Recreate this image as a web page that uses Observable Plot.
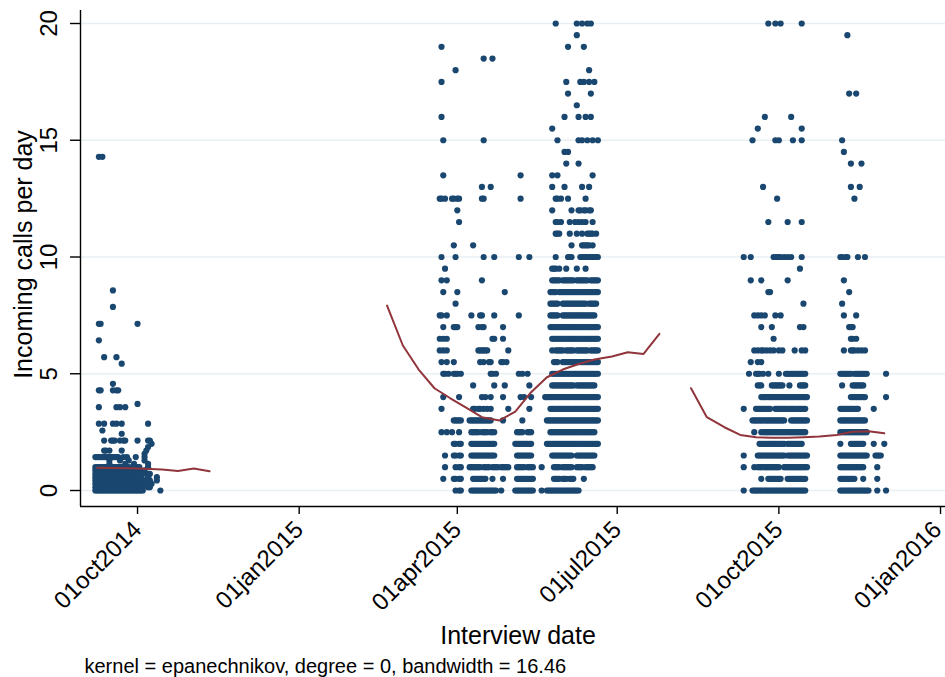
<!DOCTYPE html>
<html>
<head>
<meta charset="utf-8">
<script src="https://cdn.jsdelivr.net/npm/d3@7"></script>
<script src="https://cdn.jsdelivr.net/npm/@observablehq/plot@0.6"></script>
<style>
  html, body { margin: 0; padding: 0; background: #fff; }
</style>
</head>
<body>
<div id="chart"></div>
<script>
// ---- Data ----
// Each row: [calls per day, days (relative to the wave's base date) that have a dot; "a:b" = dots on every day a..b]
const wave1Base = "2014-10-01";
const wave1Rows = [
  [14.29, "-22 -20"],
  [8.57, "-14"],
  [7.86, "-14"],
  [7.14, "-22 -21 0"],
  [6.43, "-22"],
  [5.71, "-19 -12"],
  [5.43, "-9"],
  [4.57, "-14"],
  [4.29, "-22 -21 -14 -12 -11"],
  [3.71, "0"],
  [3.57, "-22 -12 -10 -7"],
  [2.86, "-22 -19 -14 -12 -9 6"],
  [2.57, "-20"],
  [2.43, "-9"],
  [2.14, "-19 -15 -14 -13 -10 -8 -7 0 6 7"],
  [2.0, "8"],
  [1.86, "6"],
  [1.71, "-19 -18 -16 -9 5"],
  [1.57, "4"],
  [1.43, "-24:-11 -8 -6 -1 4"],
  [1.29, "-16 -10 -5 4"],
  [1.14, "-16 -7 -2 6"],
  [1.0, "-24:-5 -3:1 6"],
  [0.86, "-24:1 4"],
  [0.71, "-24:2 5 7"],
  [0.57, "-24:2 6 11"],
  [0.43, "-24:2 4 7 11"],
  [0.29, "-24:2 5 7 8"],
  [0.14, "-24:3 6 7"],
  [0, "-24:3 13"]
];

const wave2Base = "2015-04-01";
const wave2Rows = [
  [20, "56 68 71 74 76"],
  [19.5, "68"],
  [19, "-9 63 72"],
  [18.5, "15 20"],
  [18, "-1 75"],
  [17.5, "-9 62 70 72 75 78"],
  [17, "63 76"],
  [16.5, "68"],
  [16, "-9 61 69 73 76"],
  [15.5, "54"],
  [15, "-8 15 57 69 71 74 77 80"],
  [14.5, "61 63"],
  [14, "62 69"],
  [13.5, "-8 36 54 57 77"],
  [13, "14 19 54 61 71 75"],
  [12.5, "-10 -9 -7 -3 -2 0 1 14 15 36 56 57 59 63 73"],
  [12, "0 54 65 69 70 72 73 75 76"],
  [11.5, "1 56 57 59 64 67 69 71 73 77"],
  [11, "56 57 58 64 68 71 74:77 79"],
  [10.5, "-2 9 65 71:75 77"],
  [10, "-9 -1 15 21 35 41 56 63:65 70:80"],
  [9.5, "-7 54:56 58 62 68 73"],
  [9, "-9 -6 14 54:58 60:66 68:74 76:80"],
  [8.5, "-8 0 27 53:56 58:80"],
  [8, "-1 53:57 60:73 75:79"],
  [7.5, "-10 -9 -6 8 13 14 21 35 53:57 60:66 67:78"],
  [7, "-8 -2 -1 0 12 14 15 26 53:80"],
  [6.5, "-10 -8 -6 20 21 26 54:60 61:66 67:80"],
  [6, "-10 -8 -6 12:17 29 54 56:60 62:66 68:74 76:80"],
  [5.5, "-9 -6 -2 13 15 18 19 25 26 28 55:57 60:80"],
  [5, "-8 -7 -5 -2 -1 0 2 19 20 22 35 37 40 54:80"],
  [4.5, "9 21 27 41 54:66 68:78"],
  [4, "-8 1 14 16 19 26 36 38 42 50:80"],
  [3.5, "-9 9 10 12 13 15 17 19 29 41 53:80"],
  [3, "-2 -1 0 1 2 7:19 26 37 51:80"],
  [2.5, "-9 -6 -3 1 8:12 14:17 19:21 34:37 40:42 53:78"],
  [2, "-2 -1 1 2 8:21 33:42 51:80"],
  [1.5, "-7 -2 -1 1 2 8:21 34:42 54:65 68:78"],
  [1, "-7 -1 1 2 7:13 15:18 20:23 25:29 34:38 40:43 48 55:58 60:65 68:71 73:77"],
  [0.5, "-8 -2 -1 1 2 9:16 20 26 34:43 55:58 60:62 64:66 72"],
  [0, "-1 1 2 8:22 25 33:43 48 51:69"]
];

const wave3Base = "2015-10-01";
const wave3Rows = [
  [20, "-6 -2 1 13"],
  [19.5, "39"],
  [17, "40 44"],
  [16, "-8 7"],
  [15.5, "-12 13"],
  [15, "-15 -2 0 8 13 36"],
  [14.5, "37"],
  [14, "41 47"],
  [13, "-9 41 46"],
  [12.5, "-1 43"],
  [11.5, "-6 5 13"],
  [10, "-20 -16 -3 -2 -1 0 1 3 5 7 13 35 36 38 39 45 49"],
  [9.5, "12"],
  [9, "-16 -10 5 37"],
  [8.5, "-6 -5 40"],
  [8, "14 36"],
  [7.5, "-14 -12 -10 -8 -2 1 37 44"],
  [7, "-10 -4 12 14 40 41 42"],
  [6.5, "-3 41 42 44"],
  [6, "-14 -12 -10 -9 -7 -5 -3 0 2 9 13 15 37 41 42 43 45 47 49"],
  [5.5, "-16 -12 -10"],
  [5, "-17 -13:-11 -9 -6 0 4:15 35:41 43:50 61"],
  [4.5, "-12 -11 -10 -4:2 6 12:15 36 42:48"],
  [4, "-10:16 41:49 61"],
  [3.5, "-20 -13:-5 -2:15 35:45 54"],
  [3, "-15:3 7:16 35:49"],
  [2.5, "-14 -10:15 35:50"],
  [2, "-11:3 5:13 35 41:48 54 60"],
  [1.5, "-20 -12:3 5:16 35:50 55:58"],
  [1, "-20 -14 -12:0 3:16 35:48 56"],
  [0.5, "-10 -6:1 5:15 35:43 48 56"],
  [0, "-20 -15:15 35:51 56 61"]
];

// Local polynomial smooth (epanechnikov, degree 0, bw 16.46); null = no estimate (gap)
const smoothDates = [
  "2014-09-08", "2014-09-17", "2014-09-26", "2014-10-05", "2014-10-15", "2014-10-24", "2014-11-02", "2014-11-11",
  "2014-11-20",
  "2015-02-20", "2015-03-01", "2015-03-10", "2015-03-19", "2015-03-28", "2015-04-06", "2015-04-15", "2015-04-25",
  "2015-05-04", "2015-05-13", "2015-05-22", "2015-05-31", "2015-06-09", "2015-06-18", "2015-06-28", "2015-07-07",
  "2015-07-16", "2015-07-25",
  "2015-08-03",
  "2015-08-12", "2015-08-21", "2015-08-31", "2015-09-09", "2015-09-18", "2015-09-27", "2015-10-06", "2015-10-15",
  "2015-10-24", "2015-11-03", "2015-11-12", "2015-11-21", "2015-11-30"
];
const smoothValues = [
  0.97, 0.96, 0.95, 0.93, 0.90, 0.84, 0.94, 0.82,
  null,
  7.92, 6.21, 5.18, 4.38, 3.95, 3.55, 3.14, 3.00, 3.38, 4.21, 4.85, 5.18, 5.42, 5.61, 5.74, 5.92, 5.85, 6.71,
  null,
  4.38, 3.14, 2.71, 2.38, 2.28, 2.26, 2.26, 2.28, 2.31, 2.38, 2.52, 2.54, 2.45
];

const yTicks = [0, 5, 10, 15, 20];
const xTicks = ["2014-10-01", "2015-01-01", "2015-04-01", "2015-07-01", "2015-10-01", "2016-01-01"];
const xTickLabels = ["01oct2014", "01jan2015", "01apr2015", "01jul2015", "01oct2015", "01jan2016"];
const yTitle = "Incoming calls per day";
const xTitle = "Interview date";
const caption = "kernel = epanechnikov, degree = 0, bandwidth = 16.46";

// ---- Build tables ----
const DAY = 864e5;
function expand(base, rows) {
  const b = Date.parse(base + "T00:00:00Z");
  const out = [];
  for (const [v, s] of rows) {
    for (const tok of s.trim().split(/\s+/)) {
      const m = tok.match(/^(-?\d+)(?::(-?\d+))?$/);
      const a = +m[1], c = m[2] !== undefined ? +m[2] : a;
      for (let d = a; d <= c; d++) out.push({date: new Date(b + d * DAY), value: v});
    }
  }
  return out;
}
const points = [
  ...expand(wave1Base, wave1Rows),
  ...expand(wave2Base, wave2Rows),
  ...expand(wave3Base, wave3Rows)
];
const smooth = smoothDates.map((d, i) => ({date: new Date(d + "T00:00:00Z"), value: smoothValues[i]}));
const xTickData = xTicks.map((d, i) => ({date: new Date(d + "T00:00:00Z"), label: xTickLabels[i]}));
const xTickInner = xTickData.slice(0, -1);
const xTickLast = xTickData.slice(-1);

const xDomain = [new Date("2014-08-29T13:00:00Z"), new Date("2016-01-03T20:00:00Z")];
const yDomain = [-0.685, 20.557];

const font = "'Liberation Sans', Arial, Helvetica, sans-serif";
const xLabelStyle = {x: "date", text: "label", frameAnchor: "bottom", dy: 19, rotate: -45,
  textAnchor: "end", lineAnchor: "middle", fontSize: 24, fill: "#000"};

const chart = Plot.plot({
  width: 945,
  height: 677,
  marginLeft: 80,
  marginRight: 0,
  marginTop: 10,
  marginBottom: 171,
  style: {fontFamily: font, background: "#fff", color: "#000"},
  x: {type: "utc", domain: xDomain, axis: null},
  y: {domain: yDomain, axis: null},
  marks: [
    Plot.ruleY(yTicks, {y: d => d, stroke: "#e8eff2", strokeWidth: 1.6}),
    Plot.dot(points, {x: "date", y: "value", r: 3.1, fill: "#1a476f", stroke: "none"}),
    Plot.line(smooth, {x: "date", y: "value", stroke: "#90353b", strokeWidth: 2}),
    // axes lines
    Plot.ruleX([xDomain[0]], {stroke: "#000", strokeWidth: 1.4}),
    Plot.ruleY([yDomain[0]], {stroke: "#000", strokeWidth: 1.4}),
    // tick marks
    Plot.axisX({ticks: xTickData.map(d => d.date), tickSize: 8, tickFormat: () => "", label: null, stroke: "#000", strokeWidth: 1.4}),
    Plot.axisY({ticks: yTicks, tickSize: 10, tickFormat: () => "", label: null, stroke: "#000", strokeWidth: 1.4}),
    // tick labels
    Plot.text(xTickInner, {...xLabelStyle, dx: 0}),
    Plot.text(xTickLast, {...xLabelStyle, dx: -3}),
    Plot.text(yTicks, {y: d => d, text: d => String(d), frameAnchor: "left", dx: -31, rotate: -90,
      textAnchor: "middle", lineAnchor: "middle", fontSize: 24, fill: "#000"}),
    // titles
    Plot.text([yTitle], {frameAnchor: "left", dx: -57, dy: -4, rotate: -90, textAnchor: "middle", lineAnchor: "middle", fontSize: 25, fill: "#000"}),
    Plot.text([xTitle], {frameAnchor: "bottom", dx: 5, dy: 129, textAnchor: "middle", lineAnchor: "middle", fontSize: 25, fill: "#000"}),
    Plot.text([caption], {frameAnchor: "bottom-left", dx: 4, dy: 160, textAnchor: "start", lineAnchor: "middle", fontSize: 20, fill: "#000"})
  ]
});
document.getElementById("chart").appendChild(chart);
</script>
</body>
</html>
